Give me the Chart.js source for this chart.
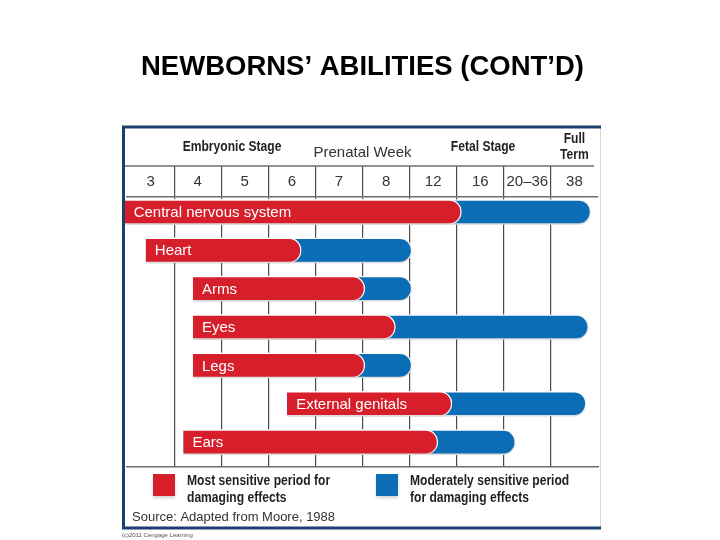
<!DOCTYPE html>
<html>
<head>
<meta charset="utf-8">
<script src="https://cdn.jsdelivr.net/npm/chart.js@4"></script>
<style>
  html, body { margin: 0; padding: 0; background: #fff; }
  canvas { display: block; }
</style>
</head>
<body>
<canvas id="chart" width="720" height="540"></canvas>
<script>
const weeks = ['3', '4', '5', '6', '7', '8', '12', '16', '20–36', '38'];
const structures = ['Central nervous system', 'Heart', 'Arms', 'Eyes', 'Legs', 'External genitals', 'Ears'];

// positions in week-column units (0 = left edge of the "3" column, 10 = right edge of "38")
const periodStart      = [-0.05, 0.4, 1.4, 1.4, 1.4, 3.4, 1.2];
const mostSensitiveEnd = [7.1, 3.7, 5.05, 5.7, 5.05, 6.9, 6.6];
const moderateEnd      = [9.85, 6.05, 6.05, 9.8, 6.05, 9.75, 8.25];

const RED = '#d71f2b';
const BLUE = '#0b6db6';
const NAVY = '#1d3f6e';
const sans = '"Liberation Sans", Arial, sans-serif';

function rows(endArr) {
    return structures.map((s, i) => ({ x: [periodStart[i], endArr[i]], y: i }));
}

// bold condensed look (Helvetica Condensed style) by squeezing Liberation Sans Bold
function narrowText(ctx, text, x, y) {
    ctx.save();
    ctx.translate(x, y);
    ctx.scale(0.78, 1);
    ctx.fillText(text, 0, 0);
    ctx.restore();
}

const decorations = {
    id: 'decorations',
    beforeDatasetsDraw(chart) {
        const ctx = chart.ctx;
        ctx.save();
        ctx.shadowColor = 'rgba(0,0,0,0.16)';
        ctx.shadowBlur = 4;
        ctx.shadowOffsetY = 3;
    },
    afterDatasetsDraw(chart) {
        const ctx = chart.ctx;
        ctx.restore();

        // names inside the bars
        ctx.save();
        ctx.font = '15px ' + sans;
        ctx.fillStyle = '#fff';
        ctx.textBaseline = 'middle';
        chart.getDatasetMeta(0).data.forEach((bar, i) => {
            ctx.fillText(structures[i], bar.base + 9, bar.y + 1);
        });
        ctx.restore();
    },
    afterDraw(chart) {
        const ctx = chart.ctx;
        const area = chart.chartArea;
        const x = chart.scales.x;
        const weekAxis = chart.scales.x2;
        ctx.save();

        // line between header row and week numbers
        const rowTop = weekAxis.bottom - weekAxis.options.grid.tickLength;
        ctx.strokeStyle = '#6d6e71';
        ctx.lineWidth = 1.5;
        ctx.beginPath();
        ctx.moveTo(area.left - 2, rowTop);
        ctx.lineTo(area.right - 4, rowTop);
        ctx.stroke();

        // stage headings
        ctx.fillStyle = '#231f20';
        ctx.font = 'bold 15.5px ' + sans;
        ctx.textAlign = 'center';
        ctx.textBaseline = 'middle';
        narrowText(ctx, 'Embryonic Stage', x.getPixelForValue(2.23), 147);
        narrowText(ctx, 'Fetal Stage', x.getPixelForValue(7.56), 147);
        narrowText(ctx, 'Full', x.getPixelForValue(9.5), 139);
        narrowText(ctx, 'Term', x.getPixelForValue(9.5), 155);

        // frame
        ctx.strokeStyle = '#d8dadd';
        ctx.lineWidth = 1;
        ctx.beginPath();
        ctx.moveTo(600.5, weekAxis.top);
        ctx.lineTo(600.5, 528);
        ctx.stroke();
        ctx.strokeStyle = NAVY;
        ctx.lineWidth = 3;
        ctx.beginPath();
        ctx.moveTo(601, weekAxis.top + 1);
        ctx.lineTo(123.5, weekAxis.top + 1);
        ctx.lineTo(123.5, 528);
        ctx.lineTo(601, 528);
        ctx.stroke();

        // legend
        const legend = [
            { color: RED, box: 153, text: ['Most sensitive period for', 'damaging effects'] },
            { color: BLUE, box: 376, text: ['Moderately sensitive period', 'for damaging effects'] }
        ];
        ctx.textAlign = 'left';
        legend.forEach(item => {
            ctx.save();
            ctx.shadowColor = 'rgba(0,0,0,0.18)';
            ctx.shadowBlur = 3;
            ctx.shadowOffsetY = 2;
            ctx.fillStyle = item.color;
            ctx.fillRect(item.box, 474, 22, 22);
            ctx.restore();
            ctx.fillStyle = '#231f20';
            ctx.font = 'bold 15.5px ' + sans;
            narrowText(ctx, item.text[0], item.box + 34, 481);
            narrowText(ctx, item.text[1], item.box + 34, 498);
        });

        ctx.fillStyle = '#333';
        ctx.font = '13px ' + sans;
        ctx.fillText('Source: Adapted from Moore, 1988', 132, 517);
        ctx.fillStyle = '#555';
        ctx.font = '6px ' + sans;
        ctx.fillText('(c)2011 Cengage Learning', 122, 535);
        ctx.restore();
    }
};

new Chart(document.getElementById('chart').getContext('2d'), {
    type: 'bar',
    data: {
        datasets: [{
            label: 'Most sensitive period for damaging effects',
            data: rows(mostSensitiveEnd),
            backgroundColor: RED,
            borderColor: '#fff',
            borderWidth: 1.5,
            borderRadius: 13,
            borderSkipped: 'start',
            barThickness: 25,
            grouped: false,
            clip: false
        }, {
            label: 'Moderately sensitive period for damaging effects',
            data: rows(moderateEnd),
            backgroundColor: BLUE,
            borderColor: '#fff',
            borderWidth: 1.5,
            borderRadius: 13,
            borderSkipped: 'start',
            barThickness: 25,
            grouped: false,
            clip: false
        }]
    },
    options: {
        indexAxis: 'y',
        responsive: false,
        animation: false,
        layout: { padding: { left: 127, right: 122, top: 0, bottom: 0 } },
        scales: {
            x: {
                type: 'linear',
                position: 'bottom',
                min: 0,
                max: 10,
                ticks: { display: false },
                grid: { display: false },
                border: { display: true, color: '#6d6e71', width: 1.5 },
                afterFit(scale) { scale.height = 73; }
            },
            x2: {
                type: 'category',
                position: 'top',
                labels: weeks,
                offset: true,
                grid: {
                    offset: true,
                    tickLength: 31,
                    lineWidth: 1.2,
                    color: c => (c.type !== 'tick' || c.index === 0) ? 'rgba(0,0,0,0)' : '#4a4a4a'
                },
                border: { display: true, color: '#6d6e71', width: 1.5 },
                ticks: {
                    padding: -24.5,
                    autoSkip: false,
                    maxRotation: 0,
                    minRotation: 0,
                    color: '#333',
                    font: { family: sans, size: 15 }
                },
                title: {
                    display: true,
                    text: 'Prenatal Week',
                    color: '#333',
                    font: { family: sans, size: 15 },
                    padding: { top: 18, bottom: 0 }
                },
                afterFit(scale) { scale.height = 71; }
            },
            y: {
                type: 'linear',
                min: -0.39,
                max: 6.65,
                reverse: true,
                offset: false,
                display: false
            }
        },
        plugins: {
            legend: { display: false },
            tooltip: { enabled: false },
            title: {
                display: true,
                text: 'NEWBORNS’ ABILITIES (CONT’D)',
                color: '#000',
                font: { family: sans, size: 27.5, weight: 'bold' },
                padding: { top: 51, bottom: 42 }
            }
        }
    },
    plugins: [decorations]
});
</script>
</body>
</html>
